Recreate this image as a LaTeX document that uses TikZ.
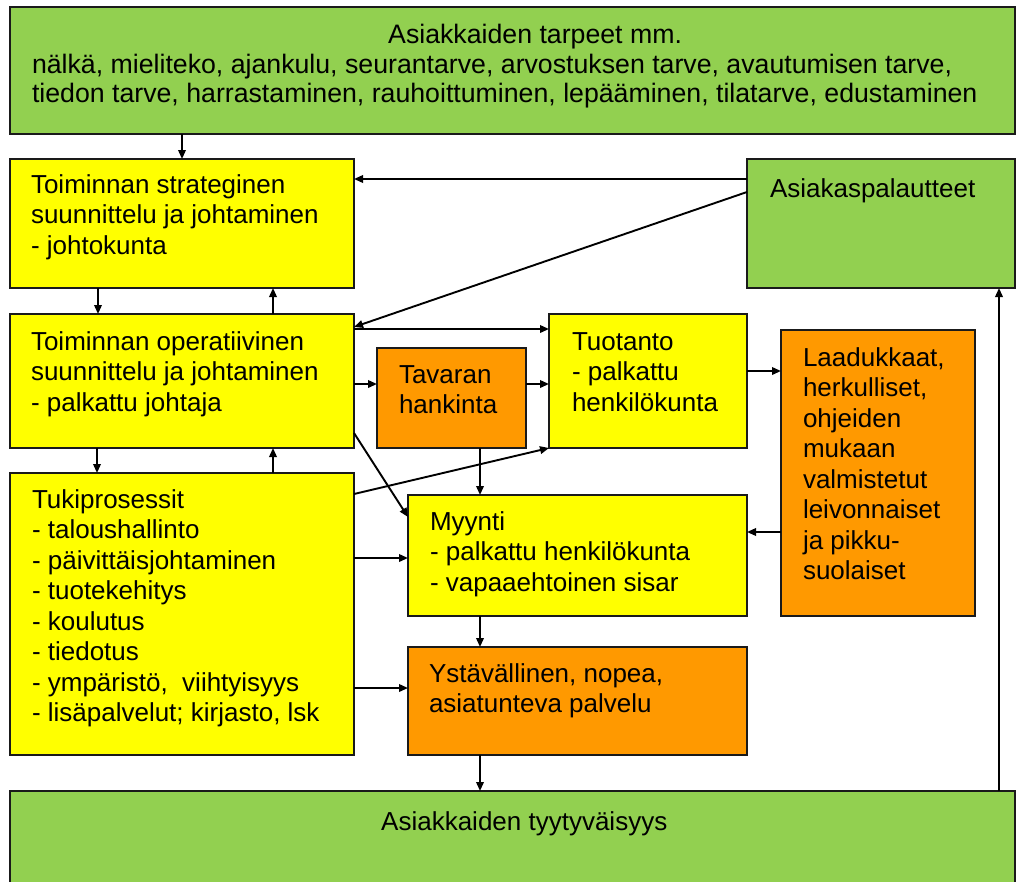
\documentclass[tikz,border=0pt]{standalone}
\usepackage{fontspec}
\setmainfont{Liberation Sans}
\usetikzlibrary{arrows.meta}
\definecolor{gr}{HTML}{92D050}
\definecolor{ye}{HTML}{FFFF00}
\definecolor{orng}{HTML}{FF9900}
\definecolor{edge}{HTML}{1A1A1A}
\begin{document}
\begin{tikzpicture}[x=1pt,y=-1pt,
 box/.style={draw=edge, line width=2pt, anchor=north west, inner sep=0pt, outer sep=0pt},
 txt/.style={anchor=north west, inner sep=0pt, outer sep=0pt, align=left, font=\fontsize{26}{30.5}\selectfont},
 toptxt/.style={anchor=north west, inner sep=0pt, outer sep=0pt, align=left, font=\fontsize{26.7}{29.5}\selectfont},
 arr/.style={draw=black, line width=1.9pt, -{Triangle[length=9pt,width=7.5pt]}}]
\clip (0,0) rectangle (1016,881);
\fill[white] (0,0) rectangle (1016,881);
% boxes
\node[box, fill=gr, minimum width=1005pt, minimum height=127pt] (top) at (10,7) {};
\node[box, fill=ye, minimum width=344pt, minimum height=129pt] (strat) at (10,159) {};
\node[box, fill=gr, minimum width=268pt, minimum height=129pt] (fb) at (747,159) {};
\node[box, fill=ye, minimum width=344pt, minimum height=134pt] (op) at (10,314) {};
\node[box, fill=orng, minimum width=149pt, minimum height=100pt] (tav) at (377,348) {};
\node[box, fill=ye, minimum width=198pt, minimum height=134pt] (tuo) at (549,314) {};
\node[box, fill=orng, minimum width=194pt, minimum height=286pt] (laa) at (781,330) {};
\node[box, fill=ye, minimum width=344pt, minimum height=282pt] (tuki) at (10,473) {};
\node[box, fill=ye, minimum width=339pt, minimum height=121pt] (myy) at (408,495) {};
\node[box, fill=orng, minimum width=339pt, minimum height=108pt] (yst) at (408,647) {};
\node[box, fill=gr, minimum width=1005pt, minimum height=110pt] (bot) at (10,791) {};
% texts
\node[anchor=base west, inner sep=0pt, font=\fontsize{26.7}{29.5}\selectfont] (ttop1) at (388,43) {Asiakkaiden tarpeet mm.};
\node[toptxt] (ttop2) at (32,52.35) {\strut nälkä, mieliteko, ajankulu, seurantarve, arvostuksen tarve, avautumisen tarve,\\tiedon tarve, harrastaminen, rauhoittuminen, lepääminen, tilatarve, edustaminen};
\node[txt] (tstrat) at (31,171.65) {\strut Toiminnan strateginen\\suunnittelu ja johtaminen\\- johtokunta};
\node[txt] (tfb) at (770,175.65) {\strut Asiakaspalautteet};
\node[txt] (top2) at (31,328.65) {\strut Toiminnan operatiivinen\\suunnittelu ja johtaminen\\- palkattu johtaja};
\node[txt] (ttav) at (399,361.65) {\strut Tavaran\\hankinta};
\node[txt] (ttuo) at (572,328.65) {\strut Tuotanto\\- palkattu\\henkilökunta};
\node[txt] (tlaa) at (803,344.65) {\strut Laadukkaat,\\herkulliset,\\ohjeiden\\mukaan\\valmistetut\\leivonnaiset\\ja pikku-\\suolaiset};
\node[txt] (ttuki) at (32,486.65) {\strut Tukiprosessit\\- taloushallinto\\- päivittäisjohtaminen\\- tuotekehitys\\- koulutus\\- tiedotus\\- ympäristö,\ \ viihtyisyys\\- lisäpalvelut; kirjasto, lsk};
\node[txt] (tmyy) at (430,508.65) {\strut Myynti\\- palkattu henkilökunta\\- vapaaehtoinen sisar};
\node[txt] (tyst) at (429,660.65) {\strut Ystävällinen, nopea,\\asiatunteva palvelu};
\node[anchor=base west, inner sep=0pt, font=\fontsize{26}{30.5}\selectfont] (tbot) at (381,830) {Asiakkaiden tyytyväisyys};
% connectors
\draw[arr] ([xshift=172pt]top.south west) -- ([xshift=172pt]strat.north west);
\draw[arr] ([xshift=88pt]strat.south west) -- ([xshift=88pt]op.north west);
\draw[arr] ([xshift=263pt]op.north west) -- ([xshift=263pt]strat.south west);
\draw[arr] ([xshift=87pt]op.south west) -- ([xshift=87pt]tuki.north west);
\draw[arr] ([xshift=263pt]tuki.north west) -- ([xshift=263pt]op.south west);
\draw[arr] ([yshift=-20pt]fb.north west) -- ([yshift=-20pt]strat.north east);
\draw[arr] ([yshift=-33pt]fb.north west) -- ([yshift=-13pt]op.north east);
\draw[arr] ([yshift=-15pt]op.north east) -- ([yshift=-15pt]tuo.north west);
\draw[arr] ([yshift=-70pt]op.north east) -- ([yshift=-36pt]tav.north west);
\draw[arr] ([yshift=-36pt]tav.north east) -- ([yshift=-70pt]tuo.north west);
\draw[arr] ([yshift=15pt]op.south east) -- ([yshift=-22pt]myy.north west);
\draw[arr] ([yshift=-21pt]tuki.north east) -- (tuo.south west);
\draw[arr] ([xshift=103pt]tav.south west) -- ([xshift=72pt]myy.north west);
\draw[arr] ([yshift=-57pt]tuo.north east) -- ([yshift=-41pt]laa.north west);
\draw[arr] ([yshift=-202pt]laa.north west) -- ([yshift=-37pt]myy.north east);
\draw[arr] ([yshift=-85pt]tuki.north east) -- ([yshift=-63pt]myy.north west);
\draw[arr] ([yshift=-215pt]tuki.north east) -- ([yshift=-41pt]yst.north west);
\draw[arr] ([xshift=72pt]myy.south west) -- ([xshift=72pt]yst.north west);
\draw[arr] ([xshift=72pt]yst.south west) -- ([xshift=470pt]bot.north west);
\draw[arr] ([xshift=989pt]bot.north west) -- ([xshift=252pt]fb.south west);
\end{tikzpicture}
\end{document}
